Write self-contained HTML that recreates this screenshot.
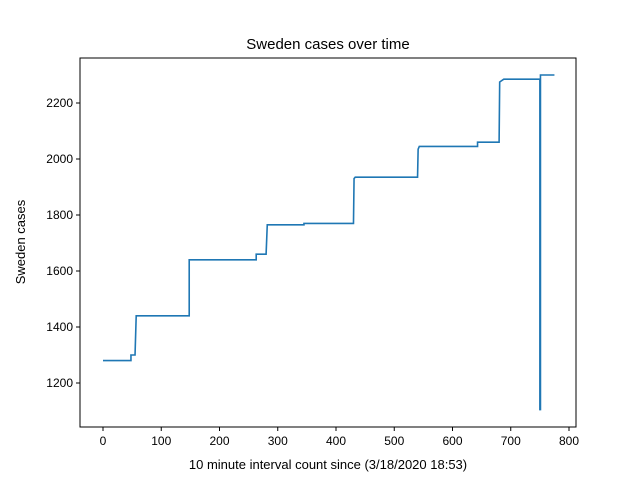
<!DOCTYPE html>
<html><head><style>body{margin:0;background:#fff}svg{font-family:"Liberation Sans","DejaVu Sans",sans-serif}</style></head><body>
<svg id="c" width="640" height="480">
<rect x="0" y="0" width="640" height="480" fill="#fff"/>
<text x="328" y="49" text-anchor="middle" font-size="15">Sweden cases over time</text>
<text x="328" y="469" text-anchor="middle" font-size="13">10 minute interval count since (3/18/2020 18:53)</text>
<text transform="translate(25,242) rotate(-90)" text-anchor="middle" font-size="13">Sweden cases</text>
<g id="ax"></g>
<rect x="80" y="58" width="496" height="369" fill="none" stroke="#000" stroke-width="1"/>
</svg>
<script>
const xs=[0,48,48,55,57,148,148,263,263,280,282,345,345,430,431,433,540,541,543,643,643,680,681,688,750,750,751,751,775];
const ys=[1280,1280,1300,1300,1440,1440,1640,1640,1660,1660,1765,1765,1770,1770,1930,1935,1935,2035,2045,2045,2060,2060,2275,2285,2285,1105,1105,2300,2300];
const xTicks=[0,100,200,300,400,500,600,700,800];
const yTicks=[1200,1400,1600,1800,2000,2200];
const X=v=>103+v*0.5825, Y=v=>383-(v-1200)*0.28;
const g=document.getElementById('ax'),NS='http://www.w3.org/2000/svg';
function mk(t,a){const e=document.createElementNS(NS,t);for(const k in a)e.setAttribute(k,a[k]);g.appendChild(e);return e;}
xTicks.forEach(t=>{const l=mk('line',{x1:X(t),x2:X(t),y1:427,y2:431,stroke:'#000'});


const s=mk('text',{x:X(t),y:445,'text-anchor':'middle','font-size':12});s.textContent=t;

});
yTicks.forEach(t=>{const l=mk('line',{x1:76,x2:80,y1:Y(t),y2:Y(t),stroke:'#000'});


const s=mk('text',{x:73,y:Y(t)+4,'text-anchor':'end','font-size':12});s.textContent=t;

});
const p=mk('polyline',{points:xs.map((x,i)=>X(x)+','+Y(ys[i])).join(' '),fill:'none',stroke:'#1f77b4','stroke-width':1.6});


</script>
</body></html>
